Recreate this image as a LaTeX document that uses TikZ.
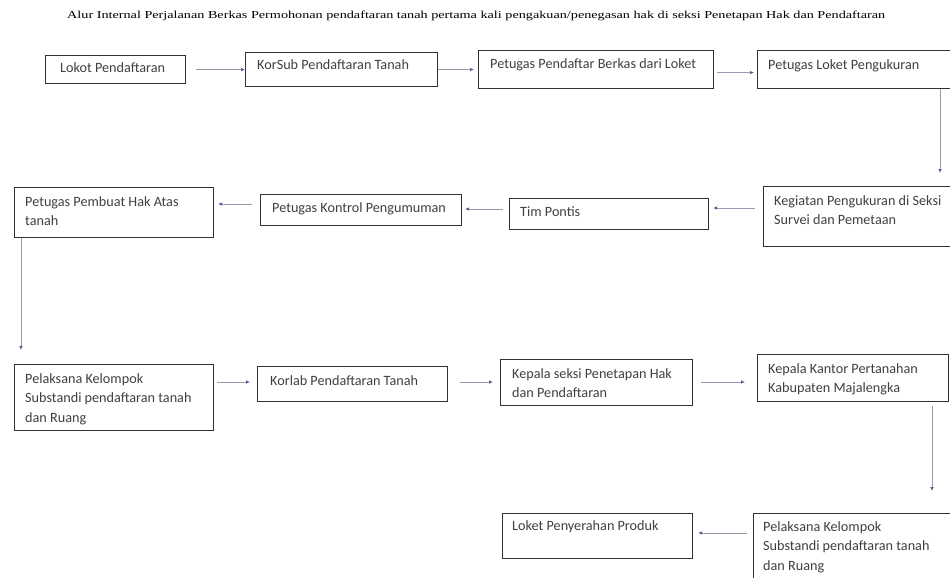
\documentclass[tikz,border=0pt]{standalone}
\usepackage{fontspec}
\setmainfont{Carlito}
\newfontfamily\titlefont{Liberation Serif}
\usetikzlibrary{arrows.meta}
\definecolor{boxline}{RGB}{50,50,50}
\definecolor{arrline}{RGB}{150,155,175}
\definecolor{arrhead}{RGB}{80,90,150}
\tikzset{
  box/.style={draw=boxline, line width=1.1pt, rectangle, inner sep=0pt, anchor=north west},
  txt/.style={anchor=north west, inner sep=0pt, align=left, font=\fontsize{14.2}{19.5}\selectfont, text=black!75},
  arr/.style={draw=arrline, line width=0.7pt, -{Latex[length=4pt,width=3.5pt,color=arrhead]}}
}
\newcommand\mybox[5]{%
  \node[box, minimum width={(#4-#2)*1pt}, minimum height={(#5-#3)*1pt}] (#1) at (#2,#3) {};}
\begin{document}
\begin{tikzpicture}[x=1pt,y=-1pt]
\useasboundingbox (0,0) rectangle (950,578);
\fill[white] (0,0) rectangle (950,578);
% title
\node[inner sep=0pt, anchor=west] (title) at (67,16) {\resizebox{818pt}{7.5pt}{\titlefont Alur Internal Perjalanan Berkas Permohonan pendaftaran tanah pertama kali pengakuan/penegasan hak di seksi Penetapan Hak dan Pendaftaran}};
% row 1
\mybox{b1}{45}{55}{185}{83}
\mybox{b2}{245}{52}{437}{86}
\mybox{b3}{478}{50}{713}{88}
\mybox{b4}{757}{50}{952}{88}
\node[txt] (t1) at (60,62) {Lokot Pendaftaran};
\node[txt] (t2) at (257,59) {KorSub Pendaftaran Tanah};
\node[txt] (t3) at (490,58) {Petugas Pendaftar Berkas dari Loket};
\node[txt] (t4) at (768,59) {Petugas Loket Pengukuran};
% row 2
\mybox{b5}{14}{187}{213}{237}
\mybox{b6}{260}{194}{461}{225}
\mybox{b7}{509}{198}{708}{229}
\mybox{b8}{763}{186}{952}{246}
\node[txt] (t5) at (25,196) {Petugas Pembuat Hak Atas\\tanah};
\node[txt] (t6) at (272,202) {Petugas Kontrol Pengumuman};
\node[txt] (t7) at (520,206) {Tim Pontis};
\node[txt] (t8) at (774,195) {Kegiatan Pengukuran di Seksi\\Survei dan Pemetaan};
% row 3
\mybox{b9}{14}{364}{213}{430}
\mybox{b10}{257}{366}{447}{401}
\mybox{b11}{500}{359}{692}{405}
\mybox{b12}{757}{354}{948}{401}
\node[txt] (t9) at (25,373) {Pelaksana Kelompok\\Substandi pendaftaran tanah\\dan Ruang};
\node[txt] (t10) at (270,375) {Korlab Pendaftaran Tanah};
\node[txt] (t11) at (512,368) {Kepala seksi Penetapan Hak\\dan Pendaftaran};
\node[txt] (t12) at (768,363) {Kepala Kantor Pertanahan\\Kabupaten Majalengka};
% row 4
\mybox{b13}{502}{513}{692}{558}
\mybox{b14}{753}{513}{955}{590}
\node[txt] (t13) at (512,520) {Loket Penyerahan Produk};
\node[txt] (t14) at (763,521) {Pelaksana Kelompok\\Substandi pendaftaran tanah\\dan Ruang};
% connectors
\draw[arr, shorten <=10pt] (b1.east) -- (b1.east -| b2.west);
\draw[arr, shorten >=4pt] (b2.east) -- (b2.east -| b3.west);
\draw[arr, shorten <=3pt, shorten >=3pt] ([yshift=-3pt]b3.east) -- ([yshift=-3pt]b3.east -| b4.west);
\draw[arr, shorten >=13pt] (b4.south -| 940,0) -- (b8.north -| 940,0);
\draw[arr, shorten <=8pt, shorten >=4pt] (b8.west |- 0,208) -- (b7.east |- 0,208);
\draw[arr, shorten <=6pt, shorten >=3pt] (b7.west |- 0,209) -- (b6.east |- 0,209);
\draw[arr, shorten <=8pt, shorten >=4pt] (b6.west |- 0,204) -- (b5.east |- 0,204);
\draw[arr, shorten >=14pt] (b5.south -| 21,0) -- (b9.north -| 21,0);
\draw[arr, shorten <=3pt, shorten >=7pt] (b9.east |- 0,382) -- (b10.west |- 0,382);
\draw[arr, shorten <=12pt, shorten >=7pt] (b10.east |- 0,382) -- (b11.west |- 0,382);
\draw[arr, shorten <=8pt, shorten >=12pt] (b11.east |- 0,382) -- (b12.west |- 0,382);
\draw[arr, shorten <=4pt, shorten >=22pt] (b12.south -| 932,0) -- (b14.north -| 932,0);
\draw[arr, shorten <=6pt, shorten >=5pt] (b14.west |- 0,533) -- (b13.east |- 0,533);
\end{tikzpicture}
\end{document}
